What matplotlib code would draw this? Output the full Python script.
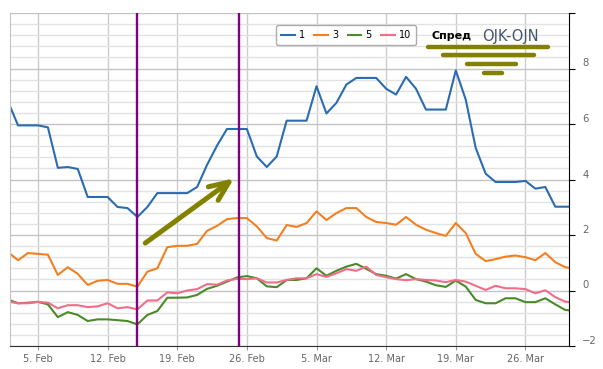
import numpy as np
import matplotlib
matplotlib.use('Agg')
import matplotlib.pyplot as plt
from matplotlib.lines import Line2D

# day numbers: Feb d -> d, Mar d -> 28 + d
days = np.arange(2, 60)

spread_1 = [6.80, 5.95, 5.95, 5.95, 5.88, 4.42, 4.45, 4.38, 3.37, 3.37, 3.37, 3.01, 2.97, 2.65,
            3.01, 3.51, 3.51, 3.51, 3.51, 3.73, 4.53, 5.22, 5.82, 5.82, 5.82, 4.83, 4.45,
            4.83, 6.12, 6.12, 6.12, 7.36, 6.38, 6.76, 7.42, 7.66, 7.66, 7.66, 7.27, 7.06, 7.70,
            7.27, 6.52, 6.52, 6.52, 7.93, 6.88, 5.14, 4.21, 3.91, 3.91, 3.91, 3.95, 3.67, 3.73,
            3.02, 3.02, 3.02]
spread_3 = [1.38, 1.09, 1.35, 1.32, 1.29, 0.56, 0.84, 0.60, 0.20, 0.35, 0.38, 0.24, 0.24, 0.14,
            0.68, 0.80, 1.56, 1.61, 1.61, 1.68, 2.15, 2.33, 2.57, 2.61, 2.61, 2.31, 1.89,
            1.80, 2.36, 2.29, 2.43, 2.85, 2.54, 2.79, 2.97, 2.97, 2.65, 2.47, 2.43, 2.37, 2.65,
            2.37, 2.19, 2.07, 1.97, 2.43, 2.07, 1.32, 1.06, 1.13, 1.22, 1.26, 1.20, 1.09, 1.35,
            1.02, 0.84, 0.78]
spread_5 = [-0.33, -0.46, -0.44, -0.41, -0.50, -0.96, -0.78, -0.88, -1.10, -1.04, -1.04, -1.07, -1.10, -1.22,
            -0.88, -0.74, -0.26, -0.26, -0.25, -0.16, 0.06, 0.17, 0.32, 0.47, 0.52, 0.44, 0.15,
            0.12, 0.38, 0.38, 0.44, 0.80, 0.53, 0.71, 0.86, 0.96, 0.78, 0.59, 0.53, 0.43, 0.59,
            0.41, 0.32, 0.19, 0.13, 0.36, 0.14, -0.34, -0.46, -0.46, -0.28, -0.28, -0.42, -0.42, -0.28,
            -0.50, -0.70, -0.74]
spread_10 = [-0.40, -0.46, -0.46, -0.41, -0.44, -0.64, -0.53, -0.53, -0.60, -0.57, -0.46, -0.64, -0.60, -0.68,
             -0.36, -0.36, -0.07, -0.10, 0.00, 0.05, 0.23, 0.21, 0.36, 0.42, 0.41, 0.44, 0.29,
             0.29, 0.38, 0.44, 0.44, 0.59, 0.49, 0.62, 0.77, 0.71, 0.86, 0.56, 0.48, 0.41, 0.37,
             0.41, 0.38, 0.36, 0.30, 0.38, 0.32, 0.17, 0.02, 0.17, 0.08, 0.08, 0.05, -0.10, 0.01,
             -0.24, -0.40, -0.45]

series_names = ['1', '3', '5', '10']
series_colors = ['#2b6cb0', '#f28022', '#4a8a2a', '#f06e8a']

tick_days = [5, 12, 19, 26, 33, 40, 47, 54]
tick_labels = ['5. Feb', '12. Feb', '19. Feb', '26. Feb', '5. Mar', '12. Mar', '19. Mar', '26. Mar']
ytick_vals = [-2, 0, 2, 4, 6, 8, 10]
ytick_labels = ['\u22122', '0', '2', '4', '6', '8', '']

marker_days = [15, 25.25]   # purple verticals
olive = '#828200'

W, H = 603, 369
fig = plt.figure(figsize=(W / 100, H / 100), dpi=100)
ax = fig.add_axes([10 / W, 1 - 346 / H, 559 / W, 333 / H])

for vals, name, col in zip([spread_1, spread_3, spread_5, spread_10], series_names, series_colors):
    ax.plot(days, vals, color=col, lw=1.5, label=name, solid_joinstyle='round')

for d in marker_days:
    ax.axvline(d, color='#800080', lw=1.7, zorder=5)

ax.set_xlim(2.19, 58.38)
ax.set_ylim(-2, 10)
ax.set_xticks(tick_days)
ax.set_xticklabels(tick_labels)
ax.set_yticks(ytick_vals)
ax.set_yticklabels(ytick_labels)
ax.set_yticks(np.arange(-2, 10.01, 0.4), minor=True)
ax.yaxis.tick_right()

ax.grid(True, which='major', axis='y', color='#c4c4c4', lw=1)
ax.grid(True, which='minor', axis='y', color='#e2e2e2', lw=1)
ax.grid(True, which='major', axis='x', color='#cccccc', lw=1)
ax.set_axisbelow(True)

ax.tick_params(axis='x', length=3, color='#999999', labelcolor='#666666', labelsize=7, pad=3)
ax.tick_params(axis='y', which='major', length=4.5, color='black', labelcolor='#666666',
               labelsize=7.2, pad=5)
ax.tick_params(axis='y', which='minor', length=0)
for t in ax.get_yticklabels():
    t.set_verticalalignment('bottom')

ax.spines['top'].set_visible(False)
ax.spines['left'].set_color('#c4c4c4')
ax.spines['right'].set_color('black')
ax.spines['bottom'].set_color('#333333')

leg = ax.legend(ncol=4, loc='center', bbox_to_anchor=(0.601, 0.934), fontsize=7,
                frameon=True, handlelength=1.4, handletextpad=0.4, columnspacing=1.0,
                borderpad=0.5, fancybox=True)
leg.get_frame().set_edgecolor('#999999')
leg.get_frame().set_linewidth(1)
leg.set_zorder(10)

# hand-drawn olive arrow
ax.annotate('', xy=(24.94, 4.1), xytext=(15.56, 1.65),
            arrowprops=dict(arrowstyle='->, head_length=0.7, head_width=0.3',
                            color=olive, lw=3.6, mutation_scale=20,
                            capstyle='round', joinstyle='round'),
            zorder=6)

fig.text(431 / W, 1 - 36 / H, 'Спред', fontsize=8, fontweight='bold', color='black', va='center')
fig.text(482 / W, 1 - 36 / H, 'OJK-OJN', fontsize=10.5, color='#44546e', va='center')

bars = [(427.7, 548.3, 47.3), (442.7, 534.3, 55.3), (467.3, 515.7, 64.3), (484.3, 502.0, 73.0)]
for x0, x1, y in bars:
    fig.add_artist(Line2D([x0 / W, x1 / W], [1 - y / H, 1 - y / H], transform=fig.transFigure,
                          color=olive, lw=3.2, solid_capstyle='round'))

fig.savefig('out.png', dpi=100)
